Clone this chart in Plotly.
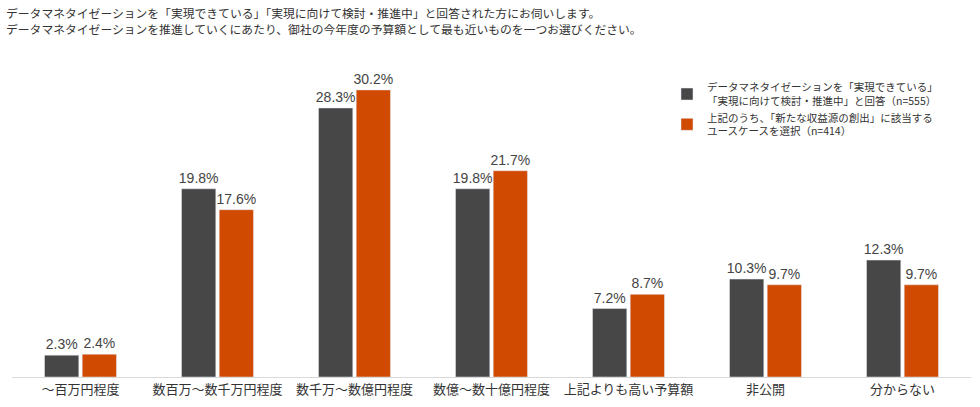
import plotly.graph_objects as go

categories = ["～百万円程度", "数百万～数千万円程度", "数千万～数億円程度", "数億～数十億円程度",
              "上記よりも高い予算額", "非公開", "分からない"]
series_all = [2.3, 19.8, 28.3, 19.8, 7.2, 10.3, 12.3]
series_new = [2.4, 17.6, 30.2, 21.7, 8.7, 9.7, 9.7]
name_all = "データマネタイゼーションを「実現できている」<br>「実現に向けて検討・推進中」と回答（n=555）"
name_new = "上記のうち、「新たな収益源の創出」に該当する<br>ユースケースを選択（n=414）"
title_lines = ["データマネタイゼーションを「実現できている」「実現に向けて検討・推進中」と回答された方にお伺いします。",
               "データマネタイゼーションを推進していくにあたり、御社の今年度の予算額として最も近いものを一つお選びください。"]

FONT = "Arial, 'Liberation Sans', 'Noto Sans CJK JP', sans-serif"
JFONT = "'Noto Sans CJK JP', sans-serif"

fig = go.Figure()
fig.add_trace(go.Bar(x=categories, y=series_all, name=name_all, marker_color="#474747",
                     text=[f"{v:.1f}%" for v in series_all], textposition="outside",
                     constraintext="none",
                     textfont=dict(size=14, color="#444444", family=FONT), cliponaxis=False))
fig.add_trace(go.Bar(x=categories, y=series_new, name=name_new, marker_color="#d04a02",
                     text=[f"{v:.1f}%" for v in series_new], textposition="outside",
                     constraintext="none",
                     textfont=dict(size=14, color="#444444", family=FONT), cliponaxis=False))

fig.update_layout(
    width=980, height=407,
    margin=dict(l=12, r=9, t=50, b=30),
    plot_bgcolor="white", paper_bgcolor="white",
    barmode="group", bargap=0.45, bargroupgap=0.09,
    font=dict(family=JFONT, color="#333333"),
    showlegend=True,
    legend=dict(x=0.683, y=0.927, xanchor="left", yanchor="top", bgcolor="rgba(0,0,0,0)",
                font=dict(size=10.5, color="#333333", family=JFONT), tracegroupgap=10,
                itemwidth=30),
    xaxis=dict(showline=True, linecolor="#d9d9d9", linewidth=1, ticks="", automargin=False,
               tickfont=dict(size=13, color="#333333", family=JFONT)),
    yaxis=dict(visible=False, range=[0, 34.4], automargin=False),
)
for i, t in enumerate(title_lines):
    fig.add_annotation(text=t, xref="paper", yref="paper", x=-0.0083, y=1.116 - i*0.049,
                       xanchor="left", yanchor="middle", showarrow=False,
                       font=dict(size=11.8, color="#333333", family=JFONT))

fig.write_html("out.html", config={"displayModeBar": False},
               post_script="document.body.style.margin='0';")
